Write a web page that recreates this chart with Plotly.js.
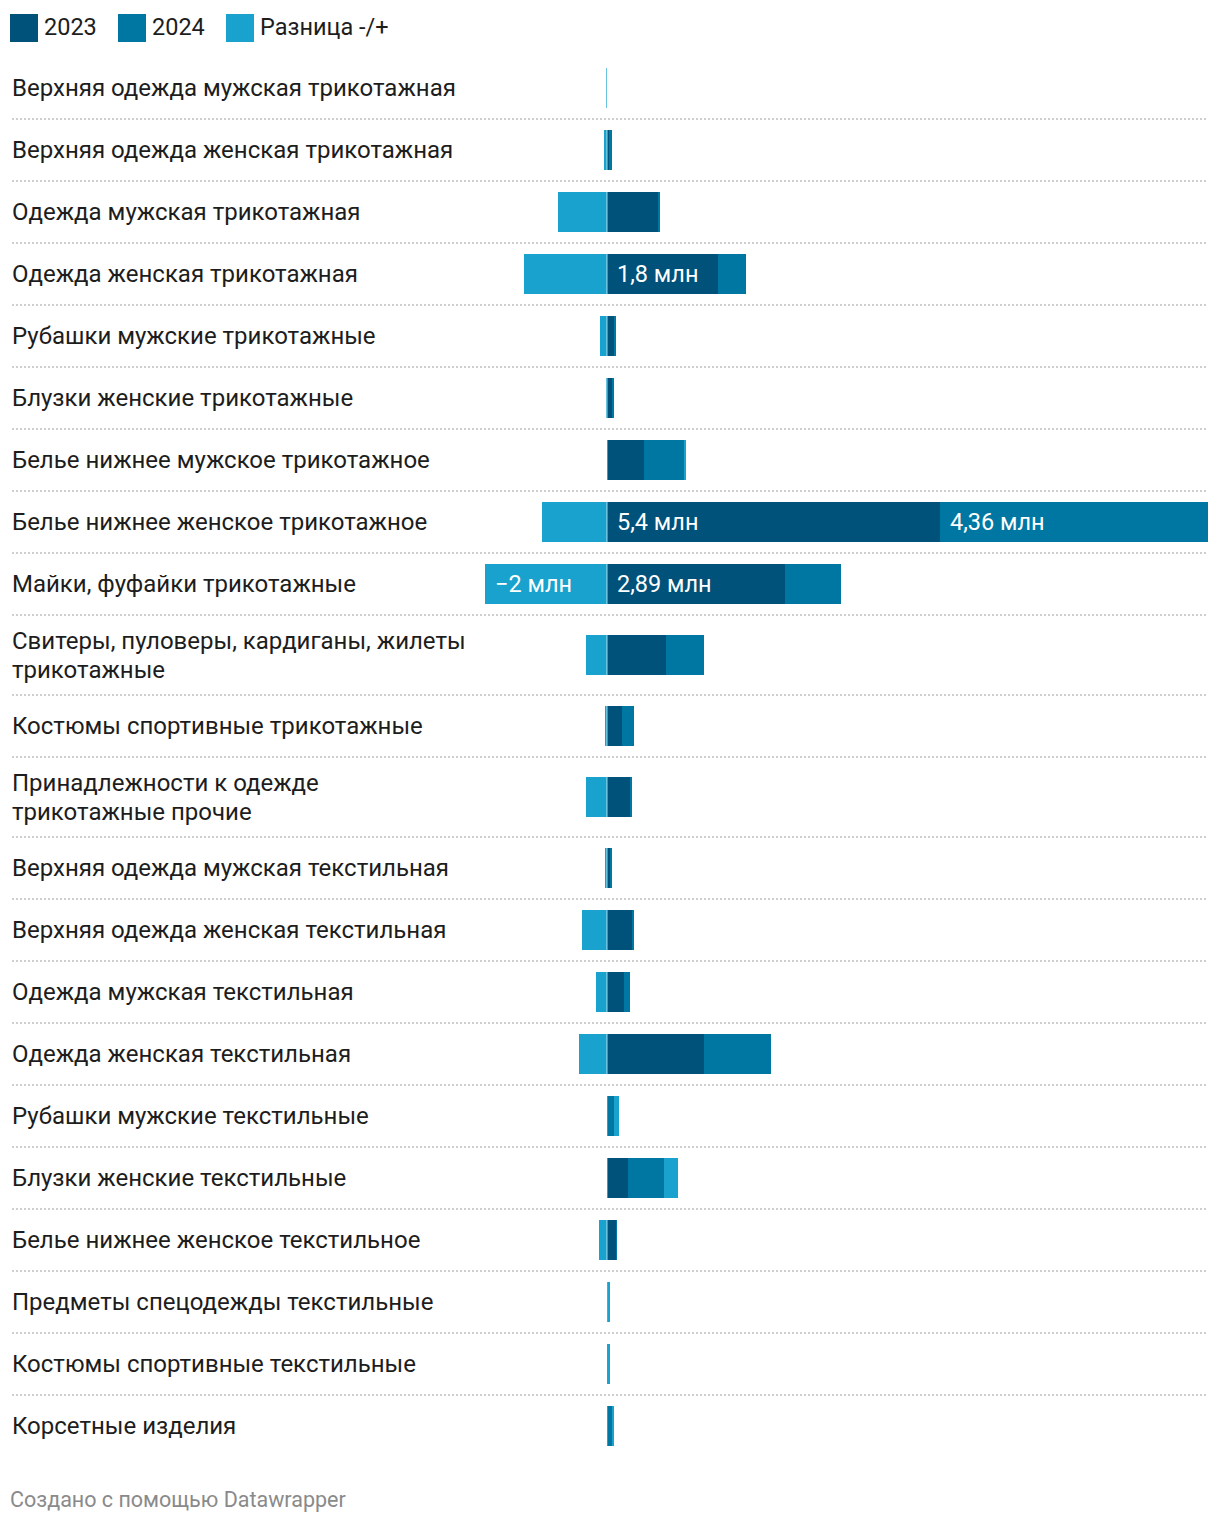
<!DOCTYPE html>
<html>
<head>
<meta charset="utf-8">
<script src="https://cdn.plot.ly/plotly-3.0.1.min.js"></script>
<style>
  html, body { margin: 0; padding: 0; background: #fff; }
  #chart { width: 1220px; height: 1522px; }
</style>
</head>
<body>
<div id="chart"></div>
<script>
// ---- DATA (values in million) ----
const categories = [
  "Верхняя одежда мужская трикотажная",
  "Верхняя одежда женская трикотажная",
  "Одежда мужская трикотажная",
  "Одежда женская трикотажная",
  "Рубашки мужские трикотажные",
  "Блузки женские трикотажные",
  "Белье нижнее мужское трикотажное",
  "Белье нижнее женское трикотажное",
  "Майки, фуфайки трикотажные",
  "Свитеры, пуловеры, кардиганы, жилеты<br>трикотажные",
  "Костюмы спортивные трикотажные",
  "Принадлежности к одежде<br>трикотажные прочие",
  "Верхняя одежда мужская текстильная",
  "Верхняя одежда женская текстильная",
  "Одежда мужская текстильная",
  "Одежда женская текстильная",
  "Рубашки мужские текстильные",
  "Блузки женские текстильные",
  "Белье нижнее женское текстильное",
  "Предметы спецодежды текстильные",
  "Костюмы спортивные текстильные",
  "Корсетные изделия"
];
const values2023 = [0.004, 0.03, 0.83, 1.8, 0.11, 0.08, 0.60, 5.4, 2.89, 0.96, 0.24, 0.37, 0.05, 0.41, 0.28, 1.57, 0.02, 0.34, 0.15, 0.005, 0.015, 0.01];
const values2024 = [0.002, 0.05, 0.03, 0.45, 0.03, 0.03, 0.65, 4.36, 0.91, 0.62, 0.20, 0.03, 0.03, 0.03, 0.10, 1.10, 0.10, 0.58, 0.01, 0.005, 0.0, 0.065];
const valuesDiff = [-0.015, -0.05, -0.80, -1.35, -0.11, -0.02, 0.04, -1.05, -1.98, -0.34, -0.03, -0.34, -0.04, -0.40, -0.18, -0.45, 0.07, 0.23, -0.13, 0.04, 0.03, 0.035];
const labels2023 = ["", "", "", "1,8 млн", "", "", "", "5,4 млн", "2,89 млн", "", "", "", "", "", "", "", "", "", "", "", "", ""];
const labels2024 = ["", "", "", "", "", "", "", "4,36 млн", "", "", "", "", "", "", "", "", "", "", "", "", "", ""];
const labelsDiff = ["", "", "", "", "", "", "", "", "−2 млн", "", "", "", "", "", "", "", "", "", "", "", "", ""];
const seriesNames = ["2023", "2024", "Разница -/+"];
const footerText = "Создано с помощью Datawrapper";

// ---- STYLE / LAYOUT ----
const W = 1220, H = 1522;
const colors = ["#00527a", "#0077a2", "#19a2cd"];
const FONT = "Roboto, 'Noto Sans', sans-serif";
const FS_LABEL = 24, FS_VAL = 23.5, FS_LEG = 23.5, FS_FOOT = 21.5;
const LINE_GAP = 29;
const zeroPx = 607, pxPerUnit = 61.6;
const rowTop0 = 57, rowH1 = 62, rowH2 = 80, barH = 40;

// row layout computed from label line count
const centers = [], seps = [];
let rowCursor = rowTop0;
categories.forEach((c, i) => {
  const h = c.includes("<br>") ? rowH2 : rowH1;
  centers.push(rowCursor + h / 2);
  rowCursor += h;
  if (i < categories.length - 1) seps.push(rowCursor);
});
const rowsBottom = rowCursor;

const base2024 = values2023.slice();
const baseDiff = valuesDiff.map((d, i) => d < 0 ? 0 : values2023[i] + values2024[i]);

const mkBar = (x, base, color, name) => ({
  type: "bar", orientation: "h", y: centers, x: x, base: base,
  width: centers.map(() => barH),
  marker: { color: color, line: { width: 0 } },
  name: name, showlegend: false, hoverinfo: "skip"
});

const traces = [
  mkBar(values2023, centers.map(() => 0), colors[0], seriesNames[0]),
  mkBar(values2024, base2024, colors[1], seriesNames[1]),
  mkBar(valuesDiff, baseDiff, colors[2], seriesNames[2])
];

const shapes = [];
const annotations = [];

// dotted separators
seps.forEach(y => shapes.push({
  type: "line", xref: "paper", yref: "y", x0: 12 / W, x1: 1208 / W, y0: y, y1: y,
  line: { color: "#cfcfcf", width: 2, dash: "2px,2px" }, layer: "below"
}));
// zero line (translucent white over the bars)
shapes.push({
  type: "line", xref: "x", yref: "y", x0: 0, x1: 0, y0: rowTop0, y1: rowsBottom,
  line: { color: "rgba(255,255,255,0.35)", width: 2 }, layer: "above"
});

// category labels (each line placed separately for tighter line spacing)
categories.forEach((c, i) => {
  const lines = c.split("<br>");
  lines.forEach((ln, k) => {
    const off = (k - (lines.length - 1) / 2) * LINE_GAP;
    annotations.push({
      xref: "paper", yref: "y", x: 10 / W, y: centers[i] + off, xanchor: "left", yanchor: "middle",
      text: ln, align: "left", showarrow: false,
      font: { family: FONT, size: FS_LABEL, color: "#1d1d1d" }
    });
  });
});

// value labels inside bars
const addLabel = (txt, xval, i) => {
  if (!txt) return;
  annotations.push({
    xref: "x", yref: "y", x: xval, y: centers[i], xanchor: "left", yanchor: "middle",
    xshift: 8, text: txt, showarrow: false,
    font: { family: FONT, size: FS_VAL, color: "#ffffff" }
  });
};
labels2023.forEach((t, i) => addLabel(t, 0, i));
labels2024.forEach((t, i) => addLabel(t, values2023[i], i));
labelsDiff.forEach((t, i) => addLabel(t, valuesDiff[i] < 0 ? valuesDiff[i] : baseDiff[i], i));

// custom legend
const legendX = [10, 118, 226];
seriesNames.forEach((n, i) => {
  shapes.push({
    type: "rect", xref: "paper", yref: "y",
    x0: legendX[i] / W, x1: (legendX[i] + 28) / W, y0: 14, y1: 42,
    fillcolor: colors[i], line: { width: 0 }
  });
  annotations.push({
    xref: "paper", yref: "y", x: (legendX[i] + 32) / W, y: 27, xanchor: "left", yanchor: "middle",
    text: n, showarrow: false, font: { family: FONT, size: FS_LEG, color: "#1d1d1d" }
  });
});

// footer
annotations.push({
  xref: "paper", yref: "y", x: 8 / W, y: 1499, xanchor: "left", yanchor: "middle",
  text: footerText, showarrow: false, font: { family: FONT, size: FS_FOOT, color: "#8a8a8a" }
});

const layout = {
  width: W, height: H,
  margin: { l: 0, r: 0, t: 0, b: 0, pad: 0 },
  paper_bgcolor: "#ffffff", plot_bgcolor: "#ffffff",
  barmode: "overlay", bargap: 0,
  showlegend: false, hovermode: false,
  xaxis: {
    range: [-zeroPx / pxPerUnit, (W - zeroPx) / pxPerUnit],
    visible: false, showgrid: false, zeroline: false, fixedrange: true
  },
  yaxis: {
    range: [H, 0], visible: false, showgrid: false, zeroline: false, fixedrange: true
  },
  shapes: shapes,
  annotations: annotations
};

Plotly.newPlot("chart", traces, layout, { displayModeBar: false, staticPlot: true });
</script>
</body>
</html>
